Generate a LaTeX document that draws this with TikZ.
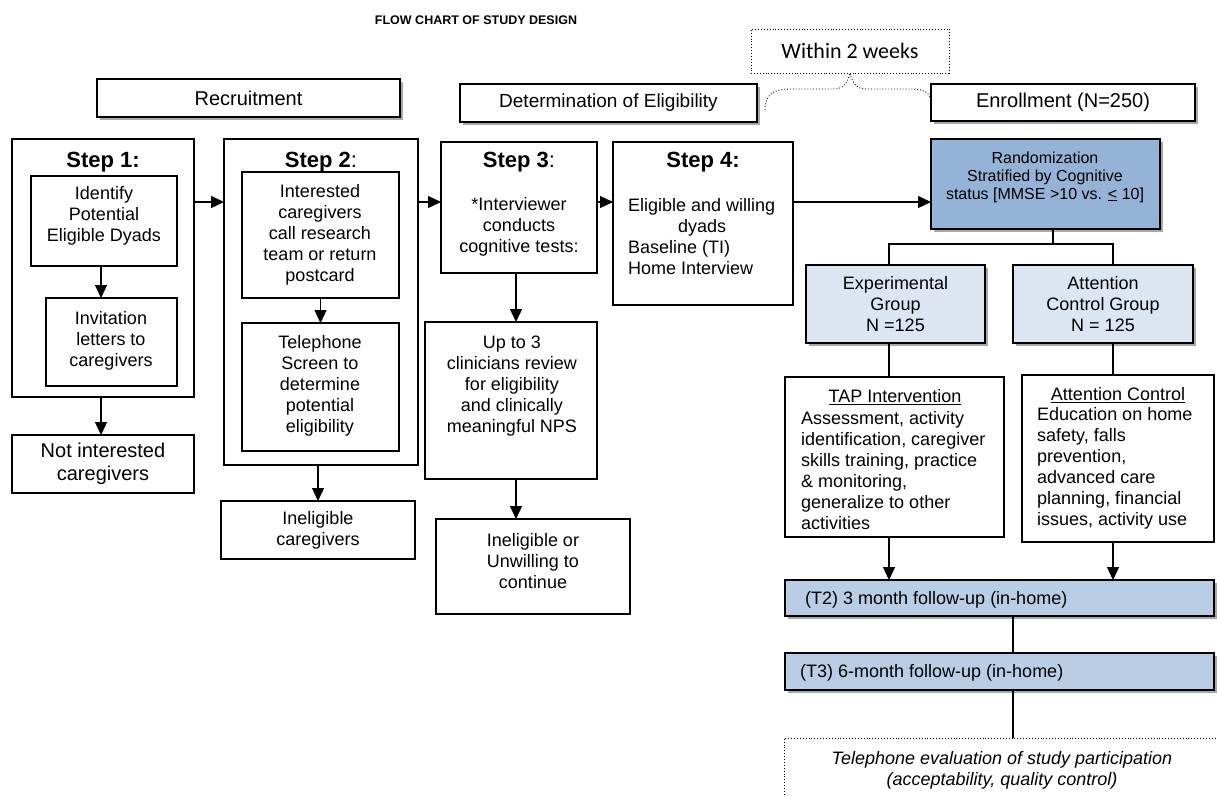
\documentclass[tikz,border=0pt]{standalone}
\usepackage{fontspec}
\setmainfont{Liberation Sans}
\newfontfamily\calfont{Carlito}
\usetikzlibrary{arrows.meta,shadows,calc}
\definecolor{randblue}{RGB}{149,179,215}
\definecolor{grpblue}{RGB}{220,230,242}
\definecolor{fubl}{RGB}{185,205,229}
\tikzset{
  bx/.style={draw, line width=1.3pt, inner sep=0pt, outer sep=0pt, fill=white, align=center, font=\fontsize{18}{21}\selectfont},
  sh/.style={drop shadow={shadow xshift=3pt, shadow yshift=-3pt, fill=black!45, opacity=0.75}},
  dotbox/.style={draw, dotted, line width=0.9pt, inner sep=0pt, outer sep=0pt, fill=white, align=center},
  arr/.style={line width=1.3pt, -{Triangle[length=13pt,width=12pt]}},
  ln/.style={line width=1.3pt},
  txt/.style={inner sep=0pt, align=center, font=\fontsize{18}{21}\selectfont},
  ltxt/.style={inner sep=0pt, align=left, anchor=west, font=\fontsize{18}{21}\selectfont},
  steplbl/.style={inner sep=0pt, font=\bfseries\fontsize{22}{26}\selectfont},
}
\newcommand{\mybox}[7]{\node[#6, minimum width={(#4)-(#2)}, minimum height={(#5)-(#3)}] (#1) at ({((#2)+(#4))/2},{((#3)+(#5))/2}) {#7};}
\begin{document}
\begin{tikzpicture}[x=1pt,y=-1pt]
\useasboundingbox (0,0) rectangle (1217,796);
\clip (0,0) rectangle (1217,796);
\fill[white] (0,0) rectangle (1217,796);

% helper coordinates
\coordinate (rowy) at (0,202);
\coordinate (c1) at (101,0);
\coordinate (c3) at (516,0);
\coordinate (cl) at (889,0);
\coordinate (cr) at (1113,0);
\coordinate (cm) at (1013,0);
\coordinate (sp) at (1053,244);

\node[inner sep=0pt, font=\bfseries\fontsize{12.5}{14}\selectfont] (title) at (476,20) {FLOW CHART OF STUDY DESIGN};

% headers
\mybox{recruit}{97}{79}{400}{117}{bx,sh,font=\fontsize{20}{23}\selectfont}{Recruitment}
\mybox{determ}{460}{84}{757}{122}{bx,sh,font=\fontsize{19}{22}\selectfont}{Determination of Eligibility}
\mybox{within}{751}{29}{949}{73}{dotbox,font=\calfont\fontsize{22}{26}\selectfont}{Within 2 weeks}
\mybox{enroll}{931}{84}{1195}{121}{bx,sh,font=\fontsize{20}{23}\selectfont}{Enrollment (N=250)}

\draw[dotted, line width=0.9pt] (765,110) .. controls (765,94) and (774,89) .. (790,89) -- (834,89)
   .. controls (844,89) and (848,82) .. (within.south)
   .. controls (852,82) and (856,89) .. (866,89) -- (912,89)
   .. controls (925,89) and (931,94) .. (enroll.west);

% Step 1
\mybox{step1}{12}{139}{194}{397}{bx}{}
\node[steplbl] (s1l) at (103,162) {Step 1:};
\mybox{identify}{31}{176}{177}{266}{bx}{}
\node[txt] (identt) at (104,216) {Identify\\Potential\\Eligible Dyads};
\mybox{invit}{46}{298}{177}{386}{bx}{}
\node[txt] (invitt) at (111,341) {Invitation\\letters to\\caregivers};
\mybox{notint}{12}{435}{194}{493}{bx,font=\fontsize{20}{23}\selectfont}{Not interested\\caregivers}

% Step 2
\mybox{step2}{224}{139}{418}{465}{bx}{}
\node[steplbl] (s2l) at (321,162) {Step 2\textmd{:}};
\mybox{interested}{242}{172}{399}{298}{bx}{}
\node[txt] (interestedt) at (320,235) {Interested\\caregivers\\call research\\team or return\\postcard};
\mybox{tel}{242}{323}{399}{451}{bx}{}
\node[txt] (telt) at (320,386) {Telephone\\Screen to\\determine\\potential\\eligibility};
\mybox{inelcg}{221}{501}{415}{559}{bx}{Ineligible\\caregivers}

% Step 3
\mybox{step3}{441}{142}{597}{273}{bx}{}
\node[steplbl] (s3l) at (519,162) {Step 3\textmd{:}};
\node[txt] (step3t) at (519,227) {*Interviewer\\conducts\\cognitive tests:};
\mybox{upto3}{425}{322}{597}{479}{bx}{}
\node[txt] (upto3t) at (512,386) {Up to 3\\clinicians review\\for eligibility\\and clinically\\meaningful NPS};
\mybox{inelun}{436}{519}{630}{614}{bx}{}
\node[txt] (inelunt) at (533,561) {Ineligible or\\Unwilling to\\continue};

% Step 4
\mybox{step4}{613}{142}{793}{305}{bx}{}
\node[steplbl] (s4l) at (703,162) {Step 4:};
\node[ltxt] (step4t) at (628,237) {Eligible and willing\\\hspace*{50pt}dyads\\Baseline (TI)\\Home Interview};

% Randomization
\mybox{rand}{931}{139}{1160}{229}{bx,sh,fill=randblue}{}
\node[txt, font=\fontsize{16}{18}\selectfont] (randt) at (1045,177) {Randomization\\Stratified by Cognitive\\status [MMSE {>}10 vs. \underline{<} 10]};
\mybox{expg}{806}{265}{985}{343}{bx,sh,fill=grpblue}{Experimental\\Group\\N =125}
\mybox{attg}{1013}{265}{1193}{343}{bx,sh,fill=grpblue}{Attention\\Control Group\\N = 125}

\mybox{tap}{785}{377}{1004}{537}{bx}{}
\node[txt] (tapt) at (895,397) {\underline{TAP Intervention}};
\node[ltxt] (tapb) at (801,471) {Assessment, activity\\identification, caregiver\\skills training, practice\\\& monitoring,\\generalize to other\\activities};
\mybox{attc}{1022}{375}{1214}{542}{bx}{}
\node[txt] (attct) at (1118,395) {\underline{Attention Control}};
\node[ltxt] (attcb) at (1037,468) {Education on home\\safety, falls\\prevention,\\advanced care\\planning, financial\\issues, activity use};

\mybox{t2}{785}{580}{1214}{616}{bx,sh,fill=fubl}{}
\node[ltxt] (t2t) at (805,600) {(T2) 3 month follow-up (in-home)};
\mybox{t3}{785}{653}{1214}{690}{bx,sh,fill=fubl}{}
\node[ltxt] (t3t) at (800,673) {(T3) 6-month follow-up (in-home)};
\mybox{televal}{784}{738}{1240}{820}{dotbox}{}
\node[txt, font=\itshape\fontsize{18}{21}\selectfont] (televalt) at (1002,770) {Telephone evaluation of study participation\\(acceptability, quality control)};

% connectors
\draw[arr] (step1.east |- rowy) -- (step2.west |- rowy);
\draw[arr] (step2.east |- rowy) -- (step3.west |- rowy);
\draw[arr] (step3.east |- rowy) -- (step4.west |- rowy);
\draw[arr] (step4.east |- rowy) -- (rand.west |- rowy);
\draw[arr] (identify.south -| c1) -- (invit.north -| c1);
\draw[arr] (step1.south -| c1) -- (notint.north -| c1);
\draw[arr] (interested.south) -- (tel.north);
\draw[arr] (step2.south -| inelcg.north) -- (inelcg.north);
\draw[arr] (step3.south -| c3) -- (upto3.north -| c3);
\draw[arr] (upto3.south -| c3) -- (inelun.north -| c3);
\draw[ln] (rand.south -| sp) -- (sp);
\draw[ln] (expg.north -| cl) |- (sp) -| (attg.north -| cr);
\draw[ln] (expg.south -| cl) -- (tap.north -| cl);
\draw[ln] (attg.south -| cr) -- (attc.north -| cr);
\draw[arr] (tap.south -| cl) -- (t2.north -| cl);
\draw[arr] (attc.south -| cr) -- (t2.north -| cr);
\draw[ln] (t2.south -| cm) -- (t3.north -| cm);
\draw[ln] (t3.south -| cm) -- (televal.north -| cm);
\end{tikzpicture}
\end{document}
